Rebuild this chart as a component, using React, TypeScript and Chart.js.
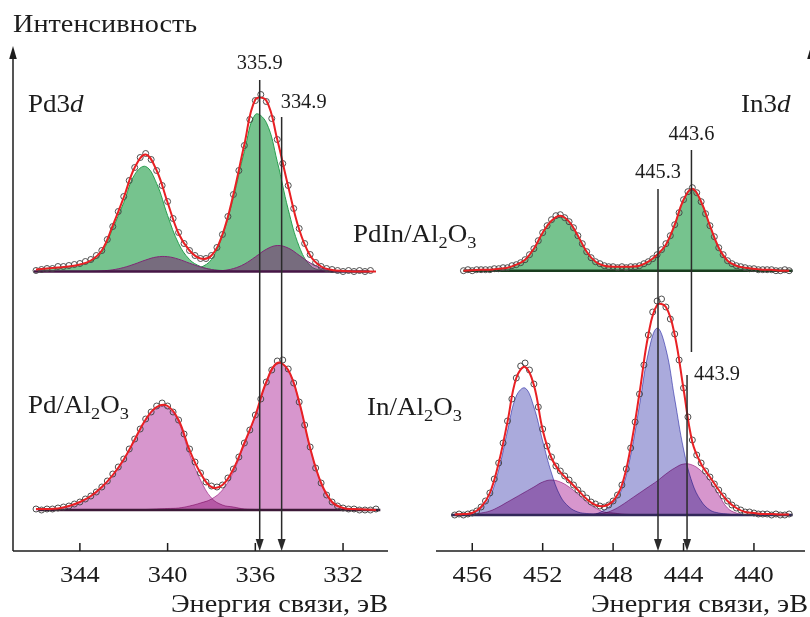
import React, { useEffect, useRef } from 'react';
import { Chart, registerables } from 'chart.js';

// Blend-mode helper plugin (registered before the built-ins so that fills are drawn with it)
const blendPlugin: any = {
  id: 'blendMode',
  beforeDatasetDraw(chart: any, args: any) {
    const ds = chart.data.datasets[args.index];
    if (ds && ds.blend) {
      chart.ctx.save();
      chart.ctx.globalCompositeOperation = ds.blend;
    }
  },
  afterDatasetDraw(chart: any, args: any) {
    const ds = chart.data.datasets[args.index];
    if (ds && ds.blend) chart.ctx.restore();
  },
};
Chart.register(blendPlugin);
Chart.register(...registerables);

// ---------------- DATA ----------------
// Pd3d panel: binding energies (eV)
const pdEnergyHalf = [346, 345.5, 345, 344.5, 344, 343.5, 343, 342.5, 342, 341.5, 341, 340.5, 340, 339.5, 339, 338.5, 338, 337.5, 337, 336.5, 336, 335.5, 335, 334.5, 334, 333.5, 333, 332.5, 332, 331.5, 331, 330.5];
const pdEnergyQuarter = [346, 345.75, 345.5, 345.25, 345, 344.75, 344.5, 344.25, 344, 343.75, 343.5, 343.25, 343, 342.75, 342.5, 342.25, 342, 341.75, 341.5, 341.25, 341, 340.75, 340.5, 340.25, 340, 339.75, 339.5, 339.25, 339, 338.75, 338.5, 338.25, 338, 337.75, 337.5, 337.25, 337, 336.75, 336.5, 336.25, 336, 335.75, 335.5, 335.25, 335, 334.75, 334.5, 334.25, 334, 333.75, 333.5, 333.25, 333, 332.75, 332.5, 332.25, 332, 331.75, 331.5, 331.25, 331, 330.75, 330.5];

// PdIn/Al2O3, Pd3d (upper spectrum)
const pdInGreen1 = [2, 3, 4, 5, 7, 10, 19, 43, 69, 97, 105, 88, 56, 28, 12, 5, 2, 1, 0, 0, 0, 0, 0, 0, 0, 0, 0, 0, 0, 0, 0, 0];
const pdInGreen2 = [0, 0, 0, 0, 0, 0, 0, 0, 0, 0, 0, 0, 0, 0, 1, 4, 12, 36, 74, 120, 157, 149, 110, 62, 25, 6, 1, 0, 0, 0, 0, 0];
const pdInPurple1 = [0, 0, 0, 0, 0, 0, 0.6, 1.7, 4, 7.5, 11.5, 14.5, 14.8, 12.3, 8.3, 4.6, 2, 0.7, 0.2, 0, 0, 0, 0, 0, 0, 0, 0, 0, 0, 0, 0, 0];
const pdInPurple2 = [0, 0, 0, 0, 0, 0, 0, 0, 0, 0, 0, 0, 0, 0, 0, 0, 0.2, 0.9, 2.9, 7.4, 14.6, 22.2, 26, 23.4, 16.2, 8.6, 3.5, 1.1, 0.3, 0, 0, 0];
const pdInFit = [2, 3, 4, 5, 7, 11, 21, 46, 74, 104, 117, 101, 69, 38, 21, 13, 16, 37, 77, 127, 172, 171, 132, 85, 42, 16, 5, 1.5, 0.5, 0, 0, 0];
const pdInMeasured = [1, 2, 3, 3, 5, 5, 6, 7, 8, 10, 12, 16, 21, 32, 45, 60, 75, 91, 104, 114, 118, 112, 101, 86, 70, 53, 39, 28, 21, 16, 13, 13, 16, 24, 37, 55, 77, 101, 126, 152, 171, 177, 170, 153, 132, 108, 86, 63, 43, 28, 17, 9, 5, 3, 2, 1, 0, 1, 0, 1, 0, 1, null];

// Pd/Al2O3, Pd3d (lower spectrum)
const pdPink1 = [1, 1, 1, 4, 8, 14, 23, 35, 50, 70, 90, 102, 102, 88, 56, 30, 12, 5, 3, 1, 0.5, 0, 0, 0, 0, 0, 0, 0, 0, 0, 0, 0];
const pdPink2 = [0, 0, 0, 0, 0, 0, 0, 0, 0, 0, 0.5, 1, 1.5, 2, 4, 7, 11, 20, 38, 66, 94, 128, 147, 140, 108, 62, 27, 8, 2, 1, 0.5, 0];
const pdFit = [1, 1, 1.5, 4, 8, 14, 23, 35, 50.5, 70.5, 90.5, 103, 104, 90, 60, 37, 23, 25, 41, 67, 94.5, 128, 147, 140, 108, 62, 27, 8, 2, 1, 0.5, 0];
const pdMeasured = [1, 0, 1, 1, 2, 3, 4, 6, 8, 11, 14, 18, 23, 29, 36, 43, 51, 61, 71, 81, 91, 98, 104, 107, 104, 98, 90, 76, 61, 48, 37, 28, 24, 23, 25, 32, 41, 53, 67, 80, 95, 111, 128, 140, 149, 150, 141, 127, 108, 85, 63, 42, 27, 15, 8, 4, 2, 1, 1, 0, 0, 0, 1];

// In3d panel: binding energies (eV)
const inEnergyHalf = [457, 456.5, 456, 455.5, 455, 454.5, 454, 453.5, 453, 452.5, 452, 451.5, 451, 450.5, 450, 449.5, 449, 448.5, 448, 447.5, 447, 446.5, 446, 445.5, 445, 444.5, 444, 443.5, 443, 442.5, 442, 441.5, 441, 440.5, 440, 439.5, 439, 438.5, 438];
const inEnergyQuarter = [457, 456.75, 456.5, 456.25, 456, 455.75, 455.5, 455.25, 455, 454.75, 454.5, 454.25, 454, 453.75, 453.5, 453.25, 453, 452.75, 452.5, 452.25, 452, 451.75, 451.5, 451.25, 451, 450.75, 450.5, 450.25, 450, 449.75, 449.5, 449.25, 449, 448.75, 448.5, 448.25, 448, 447.75, 447.5, 447.25, 447, 446.75, 446.5, 446.25, 446, 445.75, 445.5, 445.25, 445, 444.75, 444.5, 444.25, 444, 443.75, 443.5, 443.25, 443, 442.75, 442.5, 442.25, 442, 441.75, 441.5, 441.25, 441, 440.75, 440.5, 440.25, 440, 439.75, 439.5, 439.25, 439, 438.75, 438.5, 438.25, 438];

// PdIn/Al2O3, In3d (upper spectrum)
const inPdInFit = [null, 0, 0.5, 1, 1, 2, 3, 6, 11, 22, 38, 50, 55, 49, 35, 19, 9, 5, 4, 4, 4, 5, 9, 16, 26, 46, 71, 82, 69, 45, 23, 10, 5, 3, 2, 1, 1, 0, 0];
const inPdInMeasured = [null, null, 0, 1, 0, 1, 1, 1, 1, 2, 2, 3, 3, 5, 6, 8, 11, 16, 22, 30, 38, 45, 51, 55, 56, 53, 49, 43, 35, 27, 19, 13, 9, 7, 5, 4, 4, 3, 4, 3, 4, 4, 5, 7, 9, 12, 16, 21, 27, 35, 46, 58, 71, 79, 83, 78, 69, 57, 45, 34, 23, 16, 10, 7, 5, 4, 3, 2, 2, 1, 1, 1, 1, 0, 0, 1, 0];

// In/Al2O3, In3d (lower spectrum)
const inBlue1 = [0.5, 1, 2, 7, 18, 45, 84, 119, 127, 108, 74, 42, 19, 8, 3, 1.5, 1, 0.5, 0, 0, 0, 0, 0, 0, 0, 0, 0, 0, 0, 0, 0, 0, 0, 0, 0, 0, 0, 0, 0];
const inPink1 = [0, 0, 0.5, 2, 4, 8, 13, 18, 23, 28, 33, 35, 33, 28, 21, 13, 7, 3, 2, 1, 0.5, 0, 0, 0, 0, 0, 0, 0, 0, 0, 0, 0, 0, 0, 0, 0, 0, 0, 0];
const inBlue2 = [0, 0, 0, 0, 0, 0, 0, 0, 0, 0, 0, 0, 0, 0, 0, 0, 1, 5, 12, 26, 60, 110, 162, 187, 166, 116, 66, 32, 14, 5, 2, 1, 0, 0, 0, 0, 0, 0, 0];
const inPink2 = [0, 0, 0, 0, 0, 0, 0, 0, 0, 0, 0, 0, 0, 0, 0, 0.5, 1, 2, 5, 10, 16, 22, 28, 34, 41, 47, 51, 50, 44, 34, 20, 7, 2, 0.5, 0, 0, 0, 0, 0];
const inFit = [0.5, 1, 2, 8, 22, 52, 93, 137, 148, 130, 85, 57, 43, 34, 25, 16, 10, 9, 14, 30, 68, 122, 180, 210, 208, 180, 126, 73, 51, 38, 25, 14, 7, 3, 2, 1, 1, 0.5, 0.5];
const inMeasured = [0, 1, 0, 1, 2, 4, 8, 14, 22, 36, 52, 72, 94, 116, 137, 149, 152, 145, 131, 108, 86, 69, 58, 49, 44, 39, 35, 30, 25, 21, 17, 13, 11, 9, 8, 10, 14, 20, 30, 46, 67, 93, 121, 150, 180, 203, 214, 216, 208, 196, 181, 155, 127, 98, 75, 60, 52, 44, 38, 31, 25, 19, 14, 10, 7, 5, 3, 3, 2, 1, 1, 1, 0, 1, 0, 0, 1];

// Baseline extents (eV)
const pdInBaseSpan = [346.1, 330.8];
const pdBaseSpan = [345.9, 330.3];
const inPdInBaseSpan = [456.5, 437.8];
const inBaseSpan = [457.2, 437.8];

// Axis ticks
const pdTicks = [344, 340, 336, 332];
const inTicks = [456, 452, 448, 444, 440];

// Peak markers
const pdMarkerEnergy = [335.8, 334.8];
const pdMarkerLabels = ['335.9', '334.9'];
const inMarkerEnergy = [443.55, 445.45, 443.8];
const inMarkerLabels = ['443.6', '445.3', '443.9'];

// ---------------- STYLE / HELPERS ----------------
const FONT = "'Liberation Serif', 'Times New Roman', serif";
const INK = '#1c1c1c';
const RED = 'rgb(232,32,36)';
const GREEN = 'rgb(118,195,142)';
const GREEN_EDGE = 'rgb(40,158,78)';
const PURPLE = 'rgba(120,22,110,0.5)';
const PURPLE_EDGE = 'rgb(128,40,118)';
const PINK = 'rgb(215,150,205)';
const PINK_EDGE = 'rgb(198,110,182)';
const BLUE = 'rgb(170,170,220)';
const BLUE_EDGE = 'rgb(128,128,208)';
const TENSION = 0.4;

const pts = (xs: number[], ys: (number | null)[]) => xs.map((x, i) => ({ x, y: ys[i] }));

function fillDs(xs: number[], ys: any[], axis: string, bg: string, edge: string, order: number, blend?: string) {
  return {
    data: pts(xs, ys), yAxisID: axis, backgroundColor: bg, borderColor: edge, borderWidth: 1,
    pointRadius: 0, fill: 'origin', order, blend, tension: TENSION,
  };
}
function lineDs(xs: number[], ys: any[], axis: string, color: string, width: number, order: number) {
  return {
    data: pts(xs, ys), yAxisID: axis, borderColor: color, borderWidth: width, pointRadius: 0,
    fill: false, order, tension: TENSION,
  };
}
function dotDs(xs: number[], ys: any[], axis: string, order: number) {
  return {
    data: pts(xs, ys), yAxisID: axis, showLine: false, pointRadius: 3, pointBorderWidth: 1,
    pointBorderColor: 'rgba(70,70,70,0.95)', pointBackgroundColor: 'rgba(255,255,255,0)', order,
  };
}
function baseDs(span: number[], axis: string, color: string, order: number) {
  return {
    data: [{ x: span[0], y: 0 }, { x: span[1], y: 0 }], yAxisID: axis, borderColor: color,
    borderWidth: 2.5, pointRadius: 0, fill: false, order,
  };
}

function seg(ctx: any, x1: number, y1: number, x2: number, y2: number) {
  ctx.beginPath(); ctx.moveTo(x1, y1); ctx.lineTo(x2, y2); ctx.stroke();
}
function arrowUp(ctx: any, x: number, tip: number) {
  ctx.beginPath(); ctx.moveTo(x, tip); ctx.lineTo(x - 3.8, tip + 13); ctx.lineTo(x + 3.8, tip + 13); ctx.closePath(); ctx.fill();
}
function arrowDown(ctx: any, x: number, tip: number) {
  ctx.beginPath(); ctx.moveTo(x, tip); ctx.lineTo(x - 4, tip - 12); ctx.lineTo(x + 4, tip - 12); ctx.closePath(); ctx.fill();
}
function text(ctx: any, t: string, x: number, y: number, size: number, align = 'left', sx = 1.1, italic = false) {
  ctx.save();
  ctx.font = `${italic ? 'italic ' : ''}${size}px ${FONT}`;
  const w = ctx.measureText(t).width * sx;
  let x0 = x;
  if (align === 'center') x0 = x - w / 2;
  else if (align === 'right') x0 = x - w;
  ctx.translate(x0, y);
  ctx.scale(sx, 1);
  ctx.textAlign = 'left';
  ctx.textBaseline = 'alphabetic';
  ctx.fillStyle = INK;
  ctx.fillText(t, 0, 0);
  ctx.restore();
  return w;
}
function rich(ctx: any, parts: any[], x: number, y: number, size: number, sx = 1.08) {
  let cx = x;
  parts.forEach((p) => {
    const s = p.sub ? size * 0.68 : size;
    const dy = p.sub ? size * 0.24 : 0;
    cx += text(ctx, p.t, cx, y + dy, s, 'left', sx, !!p.it);
  });
}

const PD_LEFT = 0, PD_W = 400;
const IN_LEFT = 340, IN_W = 470;

const pdDecor: any = {
  id: 'pdDecor',
  afterDraw(chart: any) {
    const ctx = chart.ctx, xs = chart.scales.x, a = chart.chartArea;
    ctx.save();
    ctx.strokeStyle = INK; ctx.fillStyle = INK; ctx.lineWidth = 1.5;
    seg(ctx, a.left, a.bottom, a.right, a.bottom);
    seg(ctx, a.left, a.bottom, a.left, 56);
    arrowUp(ctx, a.left, 46);
    pdTicks.forEach((t) => {
      const px = xs.getPixelForValue(t);
      seg(ctx, px, a.bottom, px, a.bottom - 8);
      text(ctx, String(t), px, 582, 24, 'center', 1.1);
    });
    text(ctx, 'Энергия связи, эВ', a.right, 612, 25, 'right', 1.13);
    text(ctx, 'Интенсивность', 13, 32, 25, 'left', 1.13);
    const tops = [80, 117];
    ctx.strokeStyle = '#2a2a2a'; ctx.fillStyle = '#2a2a2a';
    pdMarkerEnergy.forEach((e, i) => {
      const px = xs.getPixelForValue(e);
      seg(ctx, px, tops[i], px, a.bottom - 9);
      arrowDown(ctx, px, a.bottom);
    });
    const p0 = xs.getPixelForValue(pdMarkerEnergy[0]);
    const p1 = xs.getPixelForValue(pdMarkerEnergy[1]);
    text(ctx, pdMarkerLabels[0], p0, 69, 20, 'center', 1.02);
    text(ctx, pdMarkerLabels[1], p1 + 22, 108, 20, 'center', 1.02);
    rich(ctx, [{ t: 'Pd3' }, { t: 'd', it: true }], 28, 112, 25);
    rich(ctx, [{ t: 'Pd/Al' }, { t: '2', sub: true }, { t: 'O' }, { t: '3', sub: true }], 28, 413, 25);
    ctx.restore();
  },
};

const inDecor: any = {
  id: 'inDecor',
  afterDraw(chart: any) {
    const ctx = chart.ctx, xs = chart.scales.x, a = chart.chartArea;
    const X = (e: number) => xs.getPixelForValue(e) + IN_LEFT;
    ctx.save();
    ctx.translate(-IN_LEFT, 0);
    ctx.strokeStyle = INK; ctx.fillStyle = INK; ctx.lineWidth = 1.5;
    seg(ctx, a.left + IN_LEFT, a.bottom, a.right + IN_LEFT, a.bottom);
    seg(ctx, 811, a.bottom, 811, 56);
    arrowUp(ctx, 811, 46);
    inTicks.forEach((t) => {
      const px = X(t);
      seg(ctx, px, a.bottom, px, a.bottom - 8);
      text(ctx, String(t), px, 582, 24, 'center', 1.1);
    });
    text(ctx, 'Энергия связи, эВ', 808, 612, 25, 'right', 1.13);
    ctx.strokeStyle = '#2a2a2a'; ctx.fillStyle = '#2a2a2a';
    const m0 = X(inMarkerEnergy[0]), m1 = X(inMarkerEnergy[1]), m2 = X(inMarkerEnergy[2]);
    seg(ctx, m0, 150, m0, 352);
    seg(ctx, m1, 189, m1, a.bottom - 9); arrowDown(ctx, m1, a.bottom);
    seg(ctx, m2, 375, m2, a.bottom - 9); arrowDown(ctx, m2, a.bottom);
    text(ctx, inMarkerLabels[0], m0, 140, 20, 'center', 1.02);
    text(ctx, inMarkerLabels[1], m1, 178, 20, 'center', 1.02);
    text(ctx, inMarkerLabels[2], m2 + 7, 380, 20, 'left', 1.02);
    rich(ctx, [{ t: 'In3' }, { t: 'd', it: true }], 741, 112, 25);
    rich(ctx, [{ t: 'PdIn/Al' }, { t: '2', sub: true }, { t: 'O' }, { t: '3', sub: true }], 353, 242, 25);
    rich(ctx, [{ t: 'In/Al' }, { t: '2', sub: true }, { t: 'O' }, { t: '3', sub: true }], 367, 415, 25);
    ctx.restore();
  },
};

function baseOptions(padLeft: number, padRight: number, xmin: number, xmax: number, top: number[], bot: number[]) {
  return {
    animation: false,
    responsive: false,
    maintainAspectRatio: false,
    events: [],
    layout: { padding: { left: padLeft, right: padRight, top: 50, bottom: 66 } },
    plugins: { legend: { display: false }, tooltip: { enabled: false } },
    scales: {
      x: { type: 'linear', reverse: true, min: xmin, max: xmax, display: false },
      yTop: { type: 'linear', min: top[0], max: top[1], display: false },
      yBot: { type: 'linear', min: bot[0], max: bot[1], display: false },
    },
  };
}

function buildPd(): any {
  const datasets = [
    lineDs(pdEnergyHalf, pdInFit, 'yTop', RED, 2, 0),
    lineDs(pdEnergyHalf, pdFit, 'yBot', RED, 2, 0),
    dotDs(pdEnergyQuarter, pdInMeasured, 'yTop', 1),
    dotDs(pdEnergyQuarter, pdMeasured, 'yBot', 1),
    baseDs(pdInBaseSpan, 'yTop', 'rgb(70,22,70)', 2),
    baseDs(pdBaseSpan, 'yBot', 'rgb(60,25,55)', 2),
    fillDs(pdEnergyHalf, pdInPurple1, 'yTop', PURPLE, PURPLE_EDGE, 3),
    fillDs(pdEnergyHalf, pdInPurple2, 'yTop', PURPLE, PURPLE_EDGE, 3),
    fillDs(pdEnergyHalf, pdInGreen1, 'yTop', GREEN, GREEN_EDGE, 4),
    fillDs(pdEnergyHalf, pdInGreen2, 'yTop', GREEN, GREEN_EDGE, 4),
    fillDs(pdEnergyHalf, pdPink1, 'yBot', PINK, PINK_EDGE, 4, 'multiply'),
    fillDs(pdEnergyHalf, pdPink2, 'yBot', PINK, PINK_EDGE, 4, 'multiply'),
  ];
  return {
    type: 'line',
    data: { datasets },
    options: baseOptions(13, 12, 329.95, 347.05, [-279.5, 221.5], [-41, 460]),
    plugins: [pdDecor],
  };
}

function buildIn(): any {
  const datasets = [
    lineDs(inEnergyHalf, inPdInFit, 'yTop', RED, 2, 0),
    lineDs(inEnergyHalf, inFit, 'yBot', RED, 2, 0),
    dotDs(inEnergyQuarter, inPdInMeasured, 'yTop', 1),
    dotDs(inEnergyQuarter, inMeasured, 'yBot', 1),
    baseDs(inPdInBaseSpan, 'yTop', 'rgb(25,60,30)', 2),
    baseDs(inBaseSpan, 'yBot', 'rgb(50,40,90)', 2),
    fillDs(inEnergyHalf, inPdInFit, 'yTop', GREEN, GREEN_EDGE, 4),
    fillDs(inEnergyHalf, inPink1, 'yBot', PINK, PINK_EDGE, 4, 'multiply'),
    fillDs(inEnergyHalf, inPink2, 'yBot', PINK, PINK_EDGE, 4, 'multiply'),
    fillDs(inEnergyHalf, inBlue1, 'yBot', BLUE, BLUE_EDGE, 4, 'multiply'),
    fillDs(inEnergyHalf, inBlue2, 'yBot', BLUE, BLUE_EDGE, 4, 'multiply'),
  ];
  return {
    type: 'line',
    data: { datasets },
    options: baseOptions(96, 0, 437.1, 458.06, [-280.3, 220.7], [-36, 465]),
    plugins: [inDecor],
  };
}

function Panel({ left, width, build }: { left: number; width: number; build: () => any }) {
  const ref = useRef<HTMLCanvasElement>(null);
  useEffect(() => {
    if (!ref.current) return;
    const chart = new Chart(ref.current, build());
    return () => chart.destroy();
  }, [build]);
  return (
    <canvas
      ref={ref}
      width={width}
      height={617}
      style={{ position: 'absolute', left, top: 0, width, height: 617, display: 'block' }}
    />
  );
}

export default function App() {
  return (
    <div style={{ position: 'absolute', left: 0, top: 0, width: 810, height: 617, background: '#fff', overflow: 'hidden' }}>
      <Panel left={PD_LEFT} width={PD_W} build={buildPd} />
      <Panel left={IN_LEFT} width={IN_W} build={buildIn} />
    </div>
  );
}
